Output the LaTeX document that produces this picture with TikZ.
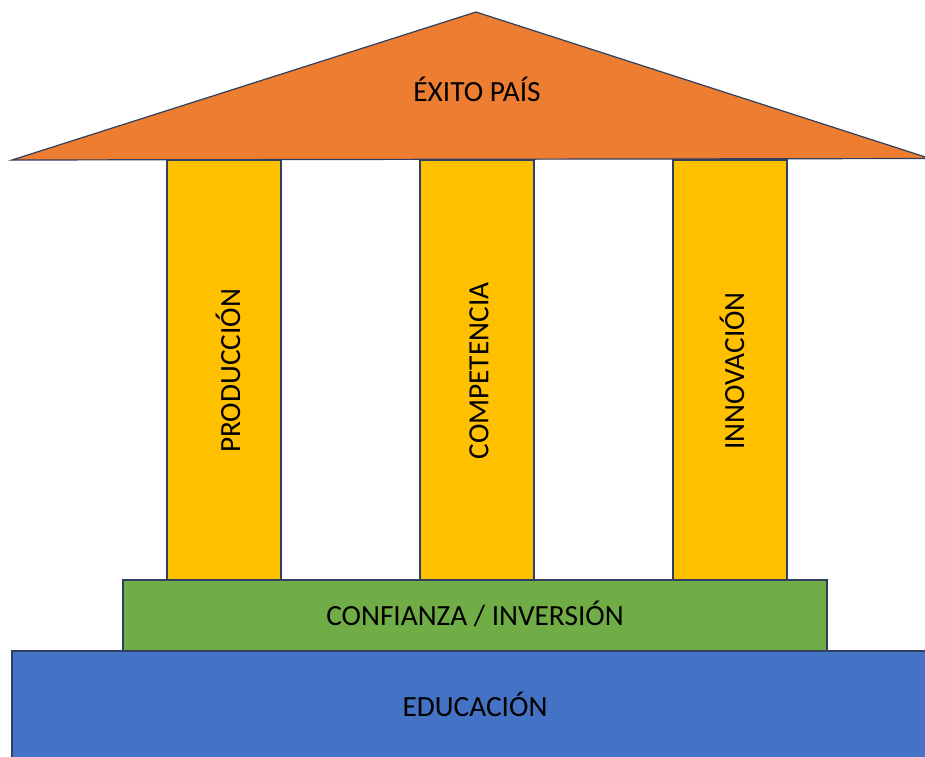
\documentclass[tikz,border=0pt]{standalone}
\usepackage{fontspec}
\setmainfont{Carlito}
\definecolor{edge}{HTML}{2F3F5F}
\definecolor{roof}{HTML}{ED7D31}
\definecolor{pillar}{HTML}{FFC000}
\definecolor{base}{HTML}{70AD47}
\definecolor{ground}{HTML}{4472C4}
\begin{document}
\begin{tikzpicture}[x=1pt,y=-1pt,
  lbl/.style={font=\fontsize{29.3}{34}\selectfont, text=black},
  col/.style={draw=edge, line width=1.2pt, fill=pillar},
  slab/.style={draw=edge, line width=1.2pt}]
\useasboundingbox (0,0) rectangle (925,756);
% pillars
\draw[col] (167,160) rectangle (281,581);
\draw[col] (420,160) rectangle (534,581);
\draw[col] (673,160) rectangle (787,581);
\node[lbl, rotate=90] (prod) at (228,371) {PRODUCCIÓN};
\node[lbl, rotate=90] (comp) at (479,371) {COMPETENCIA};
\node[lbl, rotate=90] (inno) at (732,371) {INNOVACIÓN};
% roof
\draw[slab, fill=roof, line join=miter] (476,12) -- (930,158.5) -- (12,160) -- cycle;
\node[lbl] (exito) at (477,89) {ÉXITO PAÍS};
% confidence slab
\draw[slab, fill=base] (123,580) rectangle (827,651);
\node[lbl] (conf) at (475,614) {CONFIANZA / INVERSIÓN};
% education
\draw[slab, fill=ground] (12,651) rectangle (935,770);
\node[lbl] (edu) at (475,704) {EDUCACIÓN};
\end{tikzpicture}
\end{document}
